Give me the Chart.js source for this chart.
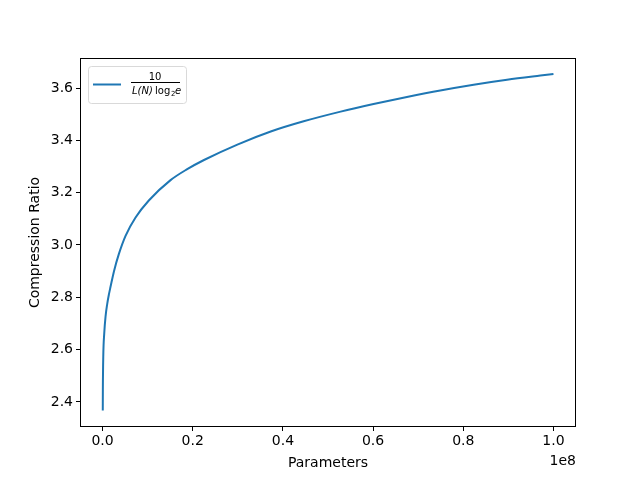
<!DOCTYPE html>
<html>
<head>
<meta charset="utf-8">
<script src="https://cdn.jsdelivr.net/npm/chart.js@4/dist/chart.umd.min.js"></script>
<style>
  html, body { margin: 0; padding: 0; background: #fff; }
  #wrap { width: 640px; height: 480px; }
</style>
</head>
<body>
<div id="wrap"><canvas id="c" width="640" height="480"></canvas></div>
<script>
// Values. Parameters are in millions.
const paramsM = [0.05, 0.07, 0.16, 0.38, 0.67, 1.04, 1.40, 1.77, 2.51, 3.61, 5.10, 7.32, 10.26,
  15.08, 18.78, 22.5, 29.9, 37.3, 44.6, 52.8, 60.1, 67.5, 74.9, 82.3, 89.7, 97.1, 100];
const ratio = [2.367, 2.446, 2.573, 2.663, 2.727, 2.775, 2.810, 2.840, 2.898, 2.965, 3.035, 3.105, 3.170,
  3.248, 3.290, 3.325, 3.384, 3.434, 3.473, 3.510, 3.539, 3.566, 3.591, 3.613, 3.632, 3.648, 3.654];
const xTicks = [0, 20e6, 40e6, 60e6, 80e6, 100e6];
const yTicks = [2.4, 2.6, 2.8, 3.0, 3.2, 3.4, 3.6];

const FONT = 'DejaVu Sans';
const BLUE = '#1f77b4';

// matplotlib-like frame, "1e8" offset text and the math-text legend
const decorations = {
  id: 'decorations',
  afterDraw(chart) {
    const { ctx, chartArea: a } = chart;
    ctx.save();
    ctx.strokeStyle = '#000';
    ctx.lineWidth = 1;
    ctx.strokeRect(a.left + 0.5, a.top + 0.5, a.right - a.left - 1, a.bottom - a.top - 1);

    ctx.fillStyle = '#000';
    ctx.font = `14px "${FONT}"`;
    ctx.textAlign = 'right';
    ctx.textBaseline = 'top';
    ctx.fillText('1e8', a.right, a.bottom + 27);

    // legend box
    const bx = 88, by = 66, bw = 98, bh = 37;
    ctx.beginPath();
    ctx.roundRect(bx + 0.5, by + 0.5, bw, bh, 3);
    ctx.fillStyle = 'rgba(255,255,255,0.8)';
    ctx.fill();
    ctx.strokeStyle = '#d9d9d9';
    ctx.stroke();
    ctx.beginPath();
    ctx.moveTo(93, 84.5);
    ctx.lineTo(121, 84.5);
    ctx.strokeStyle = BLUE;
    ctx.lineWidth = 2;
    ctx.stroke();

    ctx.fillStyle = '#000';
    ctx.textAlign = 'center';
    ctx.textBaseline = 'alphabetic';
    ctx.font = `10px "${FONT}"`;
    ctx.fillText('10', 155, 80);
    ctx.fillRect(131, 82, 49, 1);
    ctx.font = `italic 10px "${FONT}"`;
    ctx.textAlign = 'left';
    ctx.fillText('L(N)', 132, 94);
    ctx.font = `10px "${FONT}"`;
    ctx.fillText('log', 155, 94);
    ctx.font = `7px "${FONT}"`;
    ctx.fillText('2', 171, 96);
    ctx.font = `italic 10px "${FONT}"`;
    ctx.fillText('e', 175, 94);
    ctx.restore();
  }
};

new Chart(document.getElementById('c'), {
  type: 'line',
  data: {
    datasets: [{
      label: '10 / (L(N) log\u2082 e)',
      data: paramsM.map((p, i) => ({ x: p * 1e6, y: ratio[i] })),
      borderColor: BLUE,
      backgroundColor: BLUE,
      borderWidth: 2,
      pointRadius: 0,
      cubicInterpolationMode: 'monotone',
    }],
  },
  options: {
    responsive: false,
    animation: false,
    devicePixelRatio: 1,
    layout: { padding: { top: 58, right: 64, left: 0, bottom: 0 } },
    scales: {
      x: {
        type: 'linear',
        min: -5e6,
        max: 105e6,
        afterBuildTicks: s => { s.ticks = xTicks.map(v => ({ value: v })); },
        afterFit: s => { s.height = 53; },
        ticks: {
          color: '#000',
          font: { family: FONT, size: 14 },
          padding: 2,
          maxRotation: 0,
          callback: v => (v / 1e8).toFixed(1),
        },
        grid: { drawOnChartArea: false, tickLength: 4, color: '#000' },
        border: { display: false },
        title: { display: true, text: 'Parameters', color: '#000', font: { family: FONT, size: 14 }, padding: { top: 0, bottom: 8 } },
      },
      y: {
        min: 2.304,
        max: 3.715,
        afterBuildTicks: s => { s.ticks = yTicks.map(v => ({ value: v })); },
        afterFit: s => { s.width = 80; },
        ticks: {
          color: '#000',
          font: { family: FONT, size: 14 },
          padding: 3,
          callback: v => v.toFixed(1),
        },
        grid: { drawOnChartArea: false, tickLength: 4, color: '#000' },
        border: { display: false },
        title: { display: true, text: 'Compression Ratio', color: '#000', font: { family: FONT, size: 14 }, padding: { top: 27, bottom: 0 } },
      },
    },
    plugins: {
      legend: { display: false },
      tooltip: { enabled: false },
    },
  },
  plugins: [decorations],
});
</script>
</body>
</html>
